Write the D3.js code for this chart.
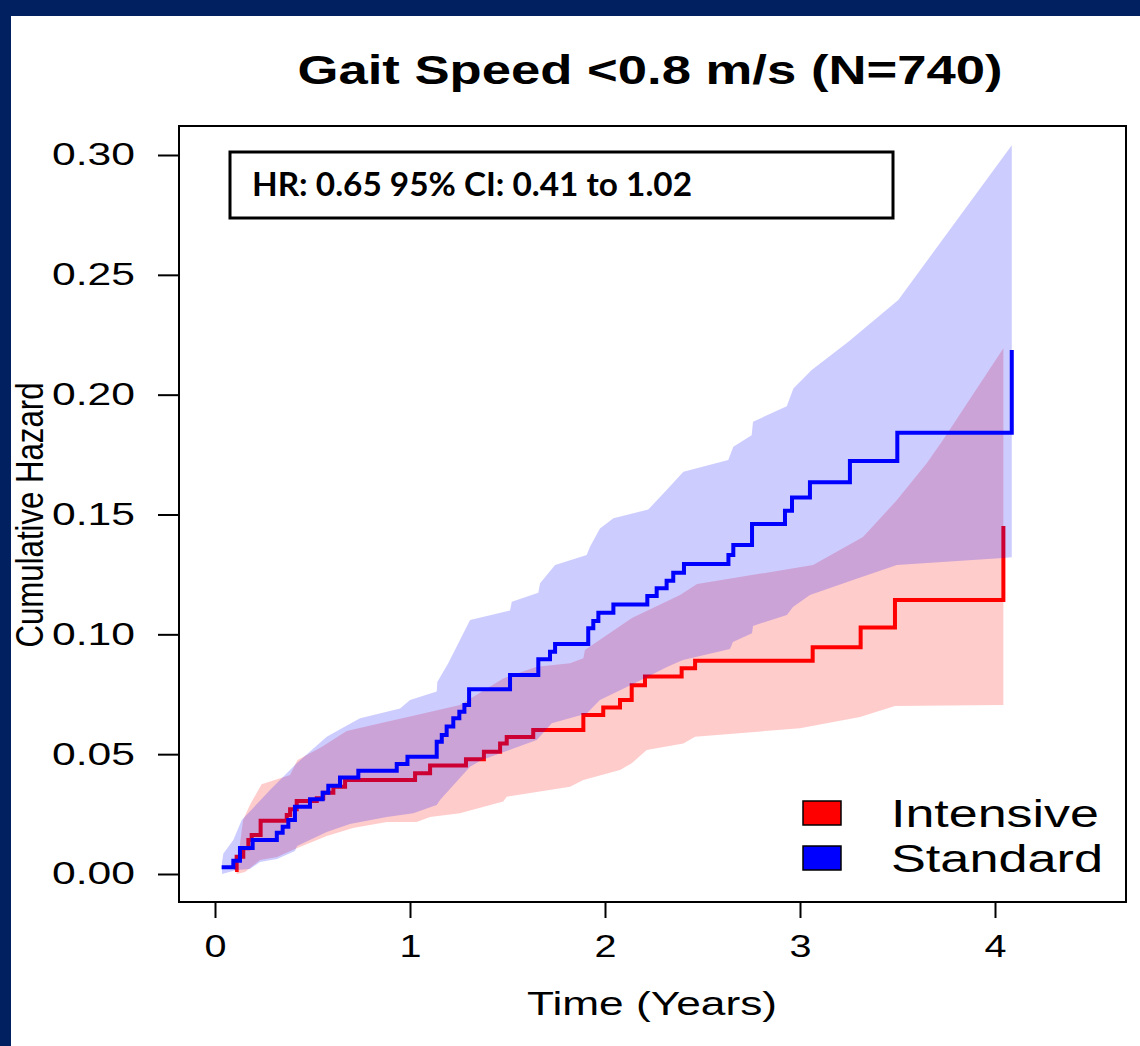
<!DOCTYPE html>
<html>
<head>
<meta charset="utf-8">
<script src="https://cdn.jsdelivr.net/npm/d3@7"></script>
<style>
  body { margin: 0; background: #fff; }
  svg text { font-family: "Liberation Sans", Arial, sans-serif; }
</style>
</head>
<body>
<script>
// chart values
const title = "Gait Speed <0.8 m/s (N=740)";
const hrText = "HR: 0.65 95% CI: 0.41 to 1.02";
const xTicks = [0, 1, 2, 3, 4];
const yTicks = [0, 0.05, 0.10, 0.15, 0.20, 0.25, 0.30];
const groups = ["Intensive", "Standard"];

// cumulative hazard steps [time, value]
const blueSteps = [[0.034,0.0028],[0.094,0.0055],[0.128,0.0108],[0.193,0.0142],[0.317,0.0172],[0.347,0.0197],
  [0.376,0.0225],[0.410,0.0281],[0.487,0.0312],[0.552,0.0339],[0.581,0.0368],[0.641,0.0403],[0.735,0.0431],
  [0.932,0.0459],[0.987,0.0489],[1.137,0.0552],[1.163,0.0580],[1.188,0.0615],[1.222,0.0650],[1.253,0.0677],
  [1.279,0.0705],[1.303,0.0771],[1.513,0.0830],[1.658,0.0896],[1.718,0.0927],[1.744,0.0960],[1.914,0.1025],
  [1.940,0.1056],[1.966,0.1090],[2.043,0.1125],[2.217,0.1160],[2.265,0.1192],[2.316,0.1224],[2.350,0.1257],
  [2.405,0.1293],[2.633,0.1331],[2.658,0.1373],[2.754,0.1460],[2.923,0.1516],[2.959,0.1571],[3.051,0.1635],
  [3.256,0.1723],[3.499,0.1841],[4.086,0.2186]];
const redSteps = [[0.103,0.0017],[0.111,0.0072],[0.145,0.0107],[0.171,0.0142],[0.188,0.0163],[0.234,0.0222],
  [0.368,0.0246],[0.385,0.0270],[0.419,0.0305],[0.522,0.0316],[0.555,0.0339],[0.607,0.0364],[0.667,0.0392],
  [1.026,0.0420],[1.103,0.0453],[1.287,0.0479],[1.379,0.0510],[1.462,0.0545],[1.496,0.0572],[1.632,0.0601],
  [1.889,0.0663],[1.991,0.0695],[2.077,0.0726],[2.137,0.0788],[2.205,0.0824],[2.393,0.0859],[2.462,0.0890],
  [3.065,0.0946],[3.311,0.1029],[3.487,0.1143],[4.043,0.1452]];

// confidence bands [time, value]
const blueUpper = [[0.036,0.0050],[0.043,0.0086],[0.094,0.0142],[0.137,0.0225],[0.282,0.0350],[0.419,0.0462],
  [0.573,0.0573],[0.667,0.0615],[0.744,0.0650],[0.949,0.0691],[1.000,0.0726],[1.137,0.0761],[1.140,0.0801],
  [1.196,0.0879],[1.308,0.1060],[1.513,0.1099],[1.522,0.1136],[1.658,0.1174],[1.667,0.1213],[1.744,0.1289],
  [1.906,0.1331],[1.923,0.1365],[1.974,0.1442],[2.043,0.1484],[2.222,0.1521],[2.316,0.1602],[2.402,0.1678],
  [2.632,0.1727],[2.658,0.1783],[2.752,0.1831],[2.759,0.1887],[2.932,0.1952],[2.966,0.2026],[3.060,0.2103],
  [3.248,0.2221],[3.504,0.2395],[4.086,0.3041]];
const blueLower = [[0.036,0.0000],[0.111,0.0017],[0.179,0.0021],[0.231,0.0050],[0.318,0.0063],[0.410,0.0096],
  [0.421,0.0117],[0.573,0.0175],[0.692,0.0209],[0.881,0.0238],[1.017,0.0254],[1.137,0.0288],[1.154,0.0309],
  [1.308,0.0448],[1.368,0.0476],[1.650,0.0559],[1.727,0.0629],[1.906,0.0670],[1.974,0.0726],[2.144,0.0793],
  [2.318,0.0864],[2.400,0.0893],[2.641,0.0939],[2.656,0.0968],[2.754,0.1005],[2.759,0.1035],[2.933,0.1081],
  [2.964,0.1114],[3.051,0.1164],[3.272,0.1227],[3.497,0.1289],[4.041,0.1318],[4.086,0.1322]];
const redUpper = [[0.111,0.0017],[0.144,0.0225],[0.179,0.0288],[0.239,0.0375],[0.385,0.0413],[0.423,0.0476],
  [0.549,0.0531],[0.675,0.0597],[0.881,0.0635],[1.034,0.0663],[1.256,0.0705],[1.478,0.0816],[1.650,0.0865],
  [1.821,0.0879],[1.889,0.0900],[1.897,0.0935],[2.138,0.1068],[2.385,0.1164],[2.472,0.1210],[3.067,0.1289],
  [3.323,0.1406],[3.497,0.1560],[3.651,0.1715],[3.733,0.1811],[4.043,0.2194]];
const redLower = [[0.111,0.0000],[0.154,0.0008],[0.231,0.0058],[0.318,0.0071],[0.410,0.0104],[0.573,0.0159],
  [0.708,0.0192],[0.881,0.0217],[1.034,0.0217],[1.103,0.0238],[1.256,0.0254],[1.478,0.0302],[1.496,0.0322],
  [1.821,0.0364],[1.889,0.0392],[2.077,0.0434],[2.137,0.0462],[2.214,0.0517],[2.402,0.0545],[2.462,0.0573],
  [3.000,0.0608],[3.308,0.0655],[3.487,0.0701],[4.043,0.0705]];

const W = 1140, H = 1046;
const box = {left: 179, top: 126, right: 1126, bottom: 902};

const svg = d3.select("body").append("svg").attr("width", W).attr("height", H);

// slide frame
svg.append("rect").attr("width", W).attr("height", H).attr("fill", "#002060");
svg.append("rect").attr("x", 11).attr("y", 16).attr("width", W-11).attr("height", H-16).attr("fill", "#fff");

const x = d3.scaleLinear().domain([0, 4]).range([215, 995]);
const y = d3.scaleLinear().domain([0, 0.30]).range([874, 155]);

// stretch a text to a given width
stretch = (sel, len) => sel.attr("textLength", len).attr("lengthAdjust", "spacingAndGlyphs");

// bands
band = (up, lo) => {
    let pts = up.concat(lo.slice().reverse());
    return d3.line().x(d => x(d[0])).y(d => y(d[1]))(pts) + "Z";
}
const stepLine = d3.line().x(d => x(d[0])).y(d => y(d[1])).curve(d3.curveStepAfter);

svg.append("path").attr("d", band(redUpper, redLower)).attr("fill", "rgba(255,0,0,0.2)");
svg.append("path").datum(redSteps).attr("d", stepLine).attr("fill", "none")
    .attr("stroke", "#ff0000").attr("stroke-width", 4);
svg.append("path").attr("d", band(blueUpper, blueLower)).attr("fill", "rgba(0,0,255,0.2)");
svg.append("path").datum(blueSteps).attr("d", stepLine).attr("fill", "none")
    .attr("stroke", "#0000ff").attr("stroke-width", 4);

// plot box
svg.append("rect").attr("x", box.left).attr("y", box.top)
    .attr("width", box.right-box.left).attr("height", box.bottom-box.top)
    .attr("fill", "none").attr("stroke", "#000").attr("stroke-width", 2);

// axes
let gy = svg.append("g").attr("transform", `translate(${box.left},0)`)
    .call(d3.axisLeft(y).tickValues(yTicks).tickFormat(d3.format(".2f")).tickSize(21).tickPadding(23));
gy.select(".domain").remove();
gy.selectAll("line").attr("stroke", "#000").attr("stroke-width", 2);
gy.selectAll("text").attr("font-size", 31).attr("fill", "#000").call(stretch, 83);

let gx = svg.append("g").attr("transform", `translate(0,${box.bottom})`)
    .call(d3.axisBottom(x).tickValues(xTicks).tickFormat(d3.format("d")).tickSize(16).tickPadding(17));
gx.select(".domain").remove();
gx.selectAll("line").attr("stroke", "#000").attr("stroke-width", 2);
gx.selectAll("text").attr("font-size", 31).attr("fill", "#000").call(stretch, 22);

// titles
svg.append("text").attr("x", 650).attr("y", 84).attr("text-anchor", "middle")
    .attr("font-size", 41).attr("font-weight", "bold").text(title).call(stretch, 705);
svg.append("text").attr("x", 652).attr("y", 1015).attr("text-anchor", "middle")
    .attr("font-size", 33).text("Time (Years)").call(stretch, 250);
svg.append("text").attr("transform", "translate(43,515) rotate(-90)").attr("text-anchor", "middle")
    .attr("font-size", 39).text("Cumulative Hazard").call(stretch, 265);

// HR box
svg.append("rect").attr("x", 230).attr("y", 152).attr("width", 663).attr("height", 66)
    .attr("fill", "#fff").attr("stroke", "#000").attr("stroke-width", 3);
svg.append("text").attr("x", 252).attr("y", 196).attr("font-size", 32).attr("font-weight", "bold")
    .style("font-family", "Lato, 'Open Sans', sans-serif").text(hrText).call(stretch, 440);

// legend
const legColor = d3.scaleOrdinal().domain(groups).range(["#ff0000", "#0000ff"]);
const legY = d3.scalePoint().domain(groups).range([813, 858]);
let leg = svg.append("g");
leg.selectAll("rect").data(groups).enter().append("rect")
    .attr("x", 803).attr("y", d => legY(d) - 12).attr("width", 38).attr("height", 24)
    .attr("fill", d => legColor(d)).attr("stroke", "#000").attr("stroke-width", 1.5);
leg.selectAll("text").data(groups).enter().append("text")
    .attr("x", 891).attr("y", d => legY(d) + 14).attr("font-size", 38).text(d => d)
    .each(function(d) { d3.select(this).call(stretch, d == "Intensive" ? 208 : 212); });
</script>
</body>
</html>
